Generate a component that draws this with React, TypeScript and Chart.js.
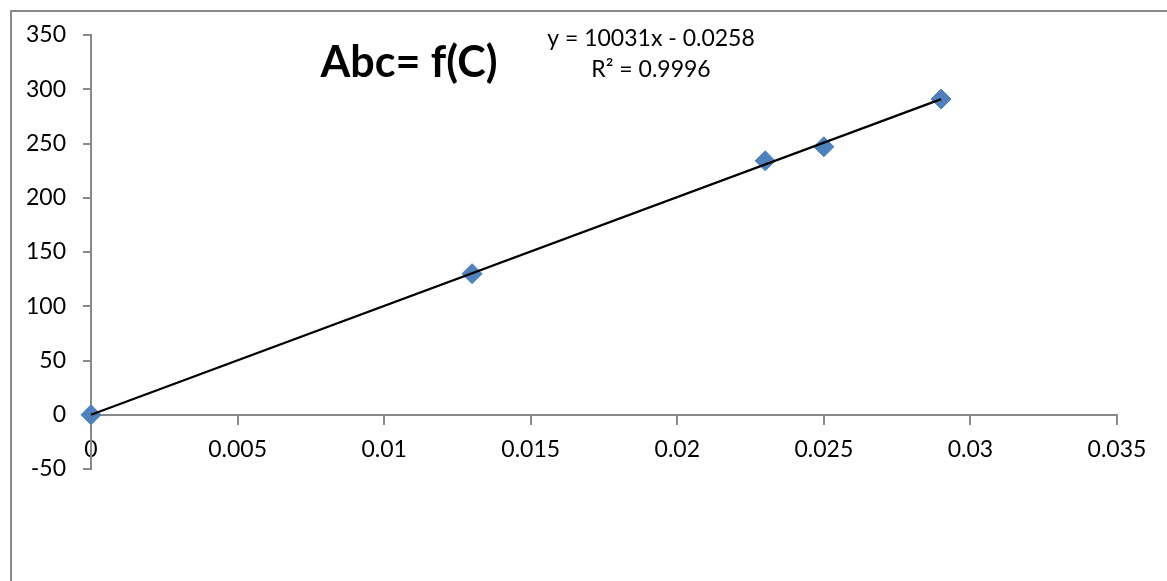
import React, { useEffect, useRef } from 'react';
import { Chart, registerables } from 'chart.js';

Chart.register(...registerables);

// ---- data ----
const concentration = [0, 0.013, 0.023, 0.025, 0.029];
const absorbance = [0, 130, 234, 247, 291];
const trendSlope = 10031;
const trendIntercept = -0.0258;
const xTickValues = [0, 0.005, 0.01, 0.015, 0.02, 0.025, 0.03, 0.035];
const xTickLabels = ['0', '0.005', '0.01', '0.015', '0.02', '0.025', '0.03', '0.035'];
const yTickValues = [-50, 0, 50, 100, 150, 200, 250, 300, 350];
const yTickLabels = ['-50', '0', '50', '100', '150', '200', '250', '300', '350'];
const chartTitle = 'Abc= f(C)';
const equationLines = ['y = 10031x - 0.0258', 'R² = 0.9996'];

const FONT = 'Lato, "Open Sans", sans-serif';
const AXIS_COLOR = '#898989';

const overlayPlugin = {
  id: 'overlay',
  beforeDraw(chart: any) {
    const ctx = chart.ctx;
    ctx.save();
    ctx.strokeStyle = AXIS_COLOR;
    ctx.lineWidth = 2;
    ctx.beginPath();
    ctx.moveTo(11, chart.height + 10);
    ctx.lineTo(11, 11);
    ctx.lineTo(chart.width + 10, 11);
    ctx.stroke();
    ctx.restore();
  },
  afterDraw(chart: any) {
    const ctx = chart.ctx;
    ctx.save();
    ctx.fillStyle = '#000000';
    ctx.textAlign = 'center';
    ctx.textBaseline = 'alphabetic';
    ctx.font = `bold 43px ${FONT}`;
    ctx.fillText(chartTitle, 409, 77);
    ctx.font = `23px ${FONT}`;
    ctx.fillText(equationLines[0], 651, 46);
    ctx.fillText(equationLines[1], 651, 77);
    ctx.restore();
  },
};

export default function App() {
  const canvasRef = useRef<HTMLCanvasElement | null>(null);

  useEffect(() => {
    document.body.style.margin = '0';
    const canvas = canvasRef.current;
    if (!canvas) return;
    const first = concentration[0];
    const last = concentration[concentration.length - 1];
    const trendPoints = [
      { x: first, y: trendSlope * first + trendIntercept },
      { x: last, y: trendSlope * last + trendIntercept },
    ];
    const chart = new Chart(canvas, {
      type: 'scatter',
      data: {
        datasets: [
          {
            type: 'line',
            label: 'Trendline',
            data: trendPoints,
            borderColor: '#000000',
            borderWidth: 2.2,
            pointRadius: 0,
            fill: false,
            clip: false,
            order: 0,
          } as any,
          {
            label: 'Abc',
            data: concentration.map((c, i) => ({ x: c, y: absorbance[i] })),
            pointStyle: 'rectRot',
            pointRadius: 10,
            pointHoverRadius: 10,
            backgroundColor: '#4F81BD',
            borderColor: '#4A7EBB',
            borderWidth: 1,
            clip: false,
            order: 1,
          } as any,
        ],
      },
      options: {
        animation: false,
        responsive: false,
        events: [],
        layout: { padding: { top: 35, right: 50, bottom: 112, left: 0 } },
        plugins: {
          legend: { display: false },
          tooltip: { enabled: false },
          title: { display: false },
        },
        scales: {
          x: {
            type: 'linear',
            position: { y: 0 } as any,
            min: 0,
            max: 0.035,
            afterBuildTicks: (scale: any) => {
              scale.ticks = xTickValues.map((v) => ({ value: v }));
            },
            afterFit: (scale: any) => {
              scale.height = 0;
            },
            ticks: {
              autoSkip: false,
              maxRotation: 0,
              padding: 12,
              color: '#000000',
              font: { family: FONT, size: 23 },
              callback: (_v: any, i: number) => xTickLabels[i],
            },
            grid: {
              drawOnChartArea: false,
              drawTicks: true,
              tickLength: 9,
              color: AXIS_COLOR,
              lineWidth: 2,
            },
            border: { display: true, color: AXIS_COLOR, width: 2 },
          },
          y: {
            type: 'linear',
            position: 'left',
            min: -50,
            max: 350,
            afterBuildTicks: (scale: any) => {
              scale.ticks = yTickValues.map((v) => ({ value: v }));
            },
            afterFit: (scale: any) => {
              scale.width = 91;
            },
            ticks: {
              autoSkip: false,
              padding: 17,
              color: '#000000',
              font: { family: FONT, size: 23 },
              callback: (_v: any, i: number) => yTickLabels[i],
            },
            grid: {
              drawOnChartArea: false,
              drawTicks: true,
              tickLength: 8,
              color: AXIS_COLOR,
              lineWidth: 2,
            },
            border: { display: true, color: AXIS_COLOR, width: 2 },
          },
        },
      },
      plugins: [overlayPlugin],
    });
    return () => chart.destroy();
  }, []);

  return (
    <div style={{ position: 'absolute', left: 0, top: 0, width: 1167, height: 581, background: '#ffffff' }}>
      <canvas ref={canvasRef} width={1167} height={581} style={{ display: 'block' }} />
    </div>
  );
}
